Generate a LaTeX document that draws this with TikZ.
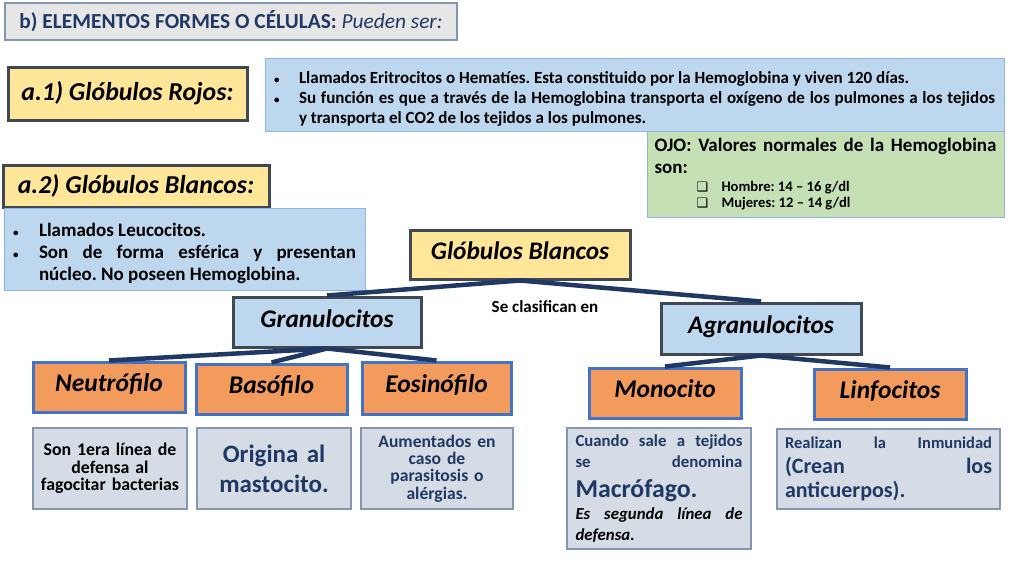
\documentclass[tikz,border=0pt]{standalone}
\usepackage{fontspec}
\setmainfont{Carlito}
\newfontfamily\djv{DejaVu Sans}
\setlength{\parindent}{0pt}
\frenchspacing
\definecolor{navy}{HTML}{1F3864}
\definecolor{lineC}{HTML}{1F3864}
\definecolor{headF}{HTML}{E7E6E6}
\definecolor{grayB}{HTML}{8497B0}
\definecolor{yelF}{HTML}{FFE699}
\definecolor{darkB}{HTML}{404854}
\definecolor{bluF}{HTML}{BDD7EE}
\definecolor{bluB}{HTML}{8EB4E3}
\definecolor{greF}{HTML}{C5E0B4}
\definecolor{oraF}{HTML}{F29B5C}
\definecolor{oraB}{HTML}{4472C4}
\definecolor{descF}{HTML}{D6DCE5}
\newcommand\smallbul{{\fontsize{11}{11}\selectfont\textbullet}}
\newcommand\bitem[2][25pt]{\par\hangindent=#1\hangafter=1\noindent\hbox to #1{\smallbul\hfil}#2\par}
\newcommand\chk[1]{\hspace*{42pt}\makebox[25pt][l]{\djv\fontsize{13}{14}\selectfont ❑}#1}
\begin{document}
\begin{tikzpicture}[x=1pt,y=-1pt,
  hdr/.style={fill=headF,draw=grayB,line width=1.2pt,inner sep=0pt,text=navy,font=\fontsize{21.4}{25}\selectfont},
  ytitle/.style={fill=yelF,draw=darkB,line width=3pt,inner sep=0pt,font=\bfseries\itshape\fontsize{25.8}{30}\selectfont},
  infobox/.style={fill=bluF,draw=bluB,line width=1pt,inner ysep=0pt},
  greenbox/.style={fill=greF,draw=bluB,line width=1pt,inner ysep=0pt},
  mainbox/.style={draw=darkB,line width=3pt,inner sep=0pt,text depth=7pt,font=\bfseries\itshape\fontsize{25.3}{29}\selectfont},
  orangebox/.style={fill=oraF,draw=oraB,line width=3pt,inner sep=0pt,text depth=8pt,font=\bfseries\itshape\fontsize{25.5}{29}\selectfont},
  descbox/.style={fill=descF,draw=grayB,line width=1.2pt,inner ysep=0pt,font=\bfseries},
  conn/.style={draw=lineC,line width=4.5pt}]
\useasboundingbox (0,0) rectangle (1024,576);
\fill[white] (0,0) rectangle (1024,576);

\node[hdr,minimum width=452pt,minimum height=37pt] (hdr) at (231,21.5)
  {{\bfseries b) ELEMENTOS FORMES O CÉLULAS:} \textit{Pueden ser:}};

\node[ytitle,minimum width=239pt,minimum height=53pt] (rojos) at (127.5,93.5) {a.1) Glóbulos Rojos:};

\node[infobox,minimum width=739pt,minimum height=73pt,text width=721pt,inner xsep=9pt,align=justify,
  font=\bfseries\fontsize{17}{20}\selectfont] (rbc) at (634.5,94.5)
  {\bitem{Llamados Eritrocitos o Hematíes. Esta constituido por la Hemoglobina y viven 120 días.}%
   \bitem{Su función es que a través de la Hemoglobina transporta el oxígeno de los pulmones a los tejidos\linebreak y transporta el CO2 de los tejidos a los pulmones.}};

\node[greenbox,minimum width=357pt,minimum height=86pt,text width=342pt,inner xsep=7.5pt,align=justify,font=\bfseries] (ojo) at (825.5,174)
  {\fontsize{19}{22}\selectfont\makebox[\hsize][s]{OJO: Valores normales de la Hemoglobina}\par
   son:\par
   \fontsize{14.6}{18}\selectfont\chk{Hombre: 14 – 16 g/dl}\par
   \fontsize{14.6}{16.5}\selectfont\chk{Mujeres: 12 – 14 g/dl}\par};

\node[ytitle,minimum width=266pt,minimum height=42pt] (blancos) at (136,186) {a.2) Glóbulos Blancos:};

\node[infobox,minimum width=361pt,minimum height=82pt,text width=343pt,inner xsep=9pt,align=justify,
  font=\bfseries\fontsize{19}{22}\selectfont] (leuco) at (184.5,249)
  {\bitem[26pt]{Llamados Leucocitos.}%
   \bitem[26pt]{Son de forma esférica y presentan\linebreak núcleo. No poseen Hemoglobina.}};

\node[mainbox,fill=yelF,minimum width=220pt,minimum height=49pt] (gb) at (520,254.5) {Glóbulos Blancos};
\node[mainbox,fill=bluF,minimum width=188pt,minimum height=50pt] (gran) at (327,322) {Granulocitos};
\node[mainbox,fill=bluF,minimum width=200pt,minimum height=51pt] (agran) at (761,328.5) {Agranulocitos};
\node[font=\bfseries\fontsize{17}{20}\selectfont] (clasif) at (545,307) {Se clasifican en};

\node[orangebox,minimum width=152pt,minimum height=50pt] (neut) at (109,387) {Neutrófilo};
\node[orangebox,minimum width=151pt,minimum height=50pt] (baso) at (271.5,389) {Basófilo};
\node[orangebox,minimum width=149pt,minimum height=52pt] (eos) at (436.5,388) {Eosinófilo};
\node[orangebox,minimum width=152pt,minimum height=50pt] (mono) at (665,393) {Monocito};
\node[orangebox,minimum width=152pt,minimum height=50pt] (linf) at (890,394) {Linfocitos};

\node[descbox,minimum width=154pt,minimum height=81pt,text width=150pt,inner xsep=2pt,align=center,
  font=\bfseries\fontsize{17.8}{17.5}\selectfont] (dneut) at (110,468.5)
  {Son 1era línea de\\ defensa al\\ fagocitar bacterias};
\node[descbox,minimum width=154pt,minimum height=81pt,text width=150pt,inner xsep=2pt,align=center,text=navy,
  font=\bfseries\fontsize{25}{30}\selectfont] (dbaso) at (274,468.5)
  {Origina al\\ mastocito.};
\node[descbox,minimum width=152pt,minimum height=81pt,text width=148pt,inner xsep=2pt,align=center,text=navy,
  font=\bfseries\fontsize{17.6}{17.3}\selectfont] (deos) at (437,468.5)
  {Aumentados en\\ caso de\\ parasitosis o\\ alérgias.};
\node[descbox,minimum width=184pt,minimum height=121pt,text width=167pt,inner xsep=8.5pt,align=justify,text=navy] (dmono) at (659,488.5)
  {\fontsize{16.8}{21}\selectfont\makebox[\hsize][s]{Cuando sale a tejidos}\par
   \makebox[\hsize][s]{se denomina}\par
   \fontsize{25.8}{30}\selectfont Macrófago.\par
   \fontsize{16.8}{22}\selectfont\makebox[\hsize][s]{\color{black}\itshape Es segunda línea de}\par
   \fontsize{16.8}{21}\selectfont{\color{black}\itshape defensa.}\par};
\node[descbox,minimum width=223pt,minimum height=80pt,text width=207pt,inner xsep=8pt,align=justify,text=navy] (dlinf) at (888.5,469)
  {\fontsize{16.5}{20}\selectfont\makebox[\hsize][s]{Realizan la Inmunidad}\par
   \fontsize{22}{25}\selectfont\makebox[\hsize][s]{(Crean los}\par
   \fontsize{22}{24}\selectfont anticuerpos).\par};

\draw[conn] (gb.south) -- (gran.north);
\draw[conn] (gb.south) -- (agran.north);
\draw[conn] (gran.south) -- (neut.north);
\draw[conn] (gran.south) -- (baso.north);
\draw[conn] (gran.south) -- (eos.north);
\draw[conn] (agran.south) -- (mono.north);
\draw[conn] (agran.south) -- (linf.north);
\end{tikzpicture}
\end{document}
